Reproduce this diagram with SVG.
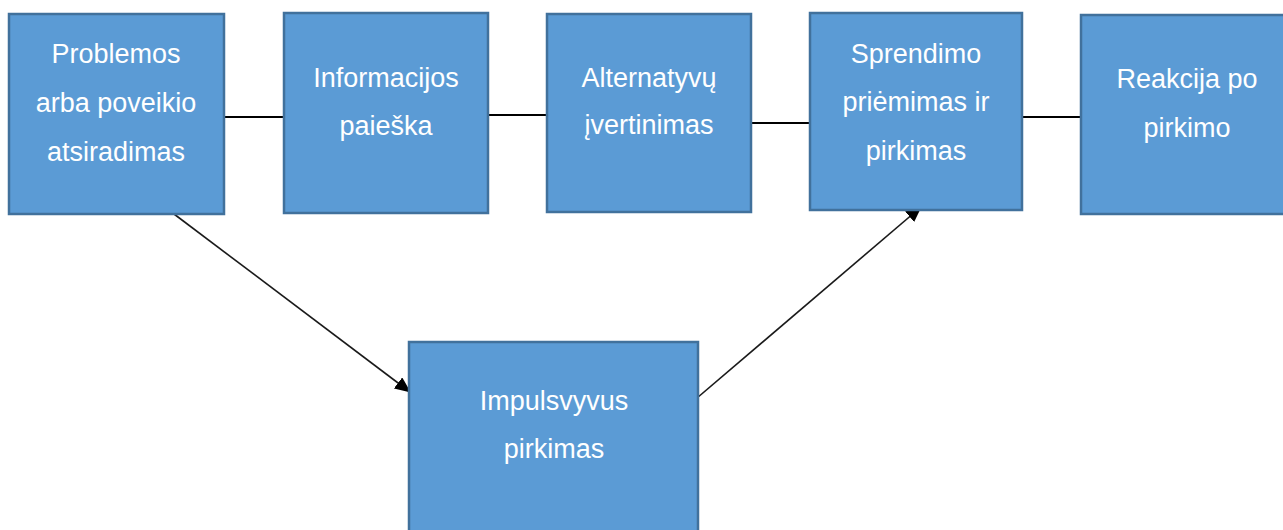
<svg xmlns="http://www.w3.org/2000/svg" width="1283" height="530" viewBox="0 0 1283 530">
  <style>
    .box { fill: #5B9BD5; stroke: #41719C; stroke-width: 2.5; }
    .lbl { fill: #FFFFFF; font-family: "Liberation Sans", Arial, sans-serif; font-size: 27px; text-anchor: middle; }
    .link { stroke: #000000; stroke-width: 1.8; fill: none; }
    .arrow { stroke: #1a1a1a; stroke-width: 1.6; fill: none; }
  </style>
  <defs>
    <marker id="arrowhead" markerWidth="16" markerHeight="14" refX="15" refY="7" orient="auto" markerUnits="userSpaceOnUse" viewBox="0 0 16 14">
      <path d="M0,0 L16,7 L0,14 Z" fill="#000000"/>
    </marker>
  </defs>
  <rect width="1283" height="530" fill="#FFFFFF"/>

  <g id="connectors">
    <line class="link" x1="224" y1="117" x2="283" y2="117"/>
    <line class="link" x1="488" y1="115" x2="547" y2="115"/>
    <line class="link" x1="751" y1="123" x2="810" y2="123"/>
    <line class="link" x1="1022" y1="117" x2="1081" y2="117"/>
    <line class="arrow" x1="174" y1="214" x2="410" y2="392" marker-end="url(#arrowhead)"/>
    <line class="arrow" x1="697" y1="398" x2="921" y2="207" marker-end="url(#arrowhead)"/>
  </g>

  <g id="node-problemos">
    <rect class="box" x="9" y="14" width="215" height="200"/>
    <text class="lbl" x="116" y="63">Problemos</text>
    <text class="lbl" x="116" y="112">arba poveikio</text>
    <text class="lbl" x="116" y="161">atsiradimas</text>
  </g>

  <g id="node-informacijos">
    <rect class="box" x="284" y="13" width="204" height="200"/>
    <text class="lbl" x="386" y="87">Informacijos</text>
    <text class="lbl" x="386" y="135">paieška</text>
  </g>

  <g id="node-alternatyvu">
    <rect class="box" x="547" y="14" width="204" height="198"/>
    <text class="lbl" x="649" y="87">Alternatyvų</text>
    <text class="lbl" x="649" y="134">įvertinimas</text>
  </g>

  <g id="node-sprendimo">
    <rect class="box" x="810" y="13" width="212" height="197"/>
    <text class="lbl" x="916" y="63">Sprendimo</text>
    <text class="lbl" x="916" y="111">priėmimas ir</text>
    <text class="lbl" x="916" y="160">pirkimas</text>
  </g>

  <g id="node-reakcija">
    <rect class="box" x="1081" y="15" width="205" height="199"/>
    <text class="lbl" x="1187" y="88">Reakcija po</text>
    <text class="lbl" x="1187" y="137">pirkimo</text>
  </g>

  <g id="node-impulsyvus">
    <rect class="box" x="409" y="342" width="289" height="195"/>
    <text class="lbl" x="554" y="410">Impulsvyvus</text>
    <text class="lbl" x="554" y="458">pirkimas</text>
  </g>
</svg>
